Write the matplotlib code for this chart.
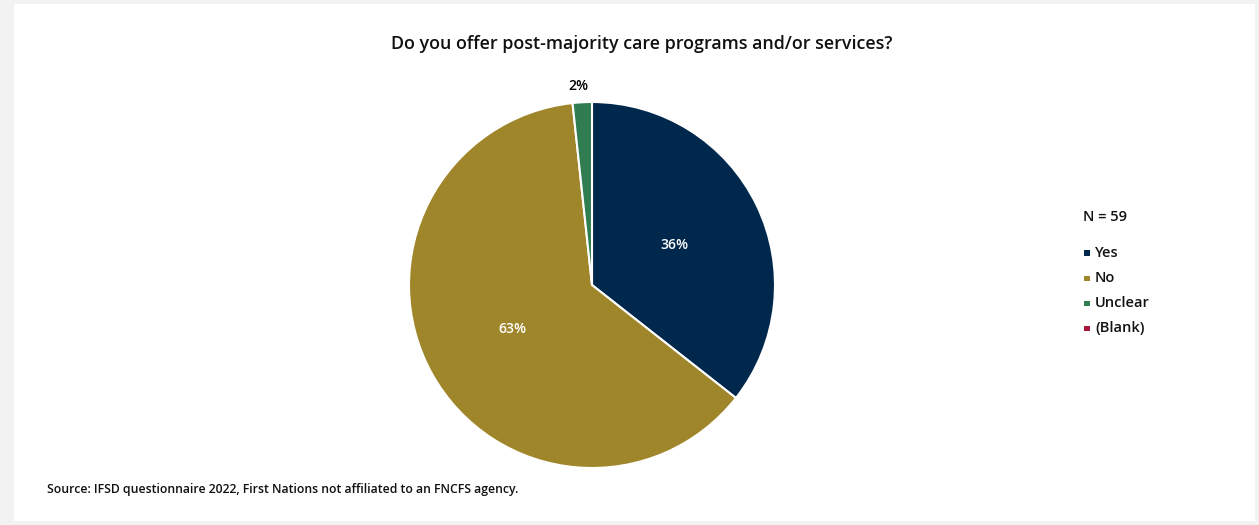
import matplotlib
matplotlib.use("Agg")
import matplotlib.pyplot as plt
from matplotlib.patches import Rectangle
import numpy as np

plt.rcParams['font.family'] = ['Open Sans', 'DejaVu Sans']

categories = ["Yes", "No", "Unclear", "(Blank)"]
counts = [21, 37, 1, 0]
colors = ["#00274C", "#A0862A", "#2F7D50", "#A6163A"]
title = "Do you offer post-majority care programs and/or services?"
n_label = "N = 59"
source = "Source: IFSD questionnaire 2022, First Nations not affiliated to an FNCFS agency."

W, H = 1259, 525
fig = plt.figure(figsize=(W / 100, H / 100), dpi=100)
fig.patch.set_facecolor("#F2F2F2")

# white panel
fig.add_artist(Rectangle((14 / W, 4 / H), 1241 / W, 517 / H,
                         transform=fig.transFigure, facecolor="white",
                         edgecolor="none", zorder=0))

cx, cy, r = 592, 285, 183
ax = fig.add_axes([(cx - r) / W, (H - cy - r) / H, 2 * r / W, 2 * r / H])
total = sum(counts)
shown = [(c, col) for c, col in zip(counts, colors) if c > 0]
vals = [c for c, _ in shown]
cols = [col for _, col in shown]

wedges, texts, autotexts = ax.pie(
    vals, colors=cols, startangle=90, counterclock=False,
    autopct=lambda p: f"{p:.0f}%", pctdistance=0.5,
    wedgeprops=dict(edgecolor="white", linewidth=1.5),
    textprops=dict(fontsize=10, fontweight="semibold", color="white"))
ax.set_xlim(-1, 1)
ax.set_ylim(-1, 1)
ax.set_aspect("equal")
ax.axis("off")

# small slices get their label outside the pie
for w, t, v in zip(wedges, autotexts, vals):
    if v / total < 0.05:
        ang = np.deg2rad((w.theta1 + w.theta2) / 2)
        t.set_horizontalalignment("right")
        t.set_position((1.09 * np.cos(ang) + 0.04, 1.09 * np.sin(ang)))
        t.set_color("black")

fig.text(641.5 / W, (H - 44) / H, title, ha="center", va="center",
         fontsize=12.9, fontweight="semibold", color="#111111")

fig.text(1083 / W, (H - 217) / H, n_label, ha="left", va="center",
         fontsize=10.5, fontweight="semibold", color="#111111")
for i, (cat, col) in enumerate(zip(categories, colors)):
    y = H - (253 + 25 * i)
    fig.add_artist(Rectangle((1084 / W, (y - 3) / H), 5.5 / W, 5.5 / H,
                             transform=fig.transFigure, facecolor=col,
                             edgecolor="none"))
    fig.text(1095 / W, y / H, cat, ha="left", va="center",
             fontsize=10.5, fontweight="semibold", color="#111111")

fig.text(47 / W, (H - 490) / H, source, ha="left", va="center",
         fontsize=8.8, fontweight="semibold", color="#111111")

fig.savefig("out.png", dpi=100, facecolor=fig.get_facecolor())
